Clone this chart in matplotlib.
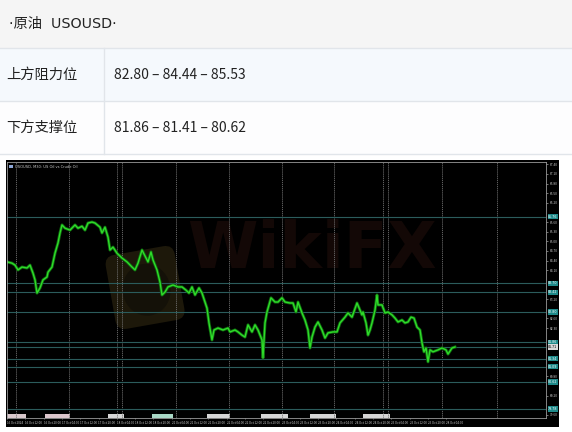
import numpy as np
import matplotlib.pyplot as plt
from matplotlib.patches import Rectangle, FancyBboxPatch, Ellipse
import matplotlib.transforms as mtransforms

plt.rcParams['font.family'] = ['Noto Sans CJK SC', 'DejaVu Sans']

# table text
header = '·原油  USOUSD·'
row_labels = ['上方阻力位', '下方支撑位']
row_values = ['82.80 – 84.44 – 85.53', '81.86 – 81.41 – 80.62']

# price trace (bar = column from the chart's left edge)
bars = [0, 5, 8, 11, 15, 20, 23, 26, 28, 30, 33, 36, 40, 41, 45, 48, 51, 53, 55, 58,
        63, 68, 71, 75, 78, 81, 85, 88, 93, 95, 98, 101, 103, 106, 110, 115, 120, 125,
        128, 131, 135, 139, 141, 144, 146, 150, 153, 155, 158, 161, 166, 171, 175, 179,
        182, 185, 188, 192, 195, 200, 202, 205, 207, 211, 216, 221, 223, 228, 231, 235,
        238, 241, 245, 248, 251, 255, 256, 258, 260, 264, 268, 271, 275, 278, 283, 286,
        289, 291, 295, 298, 301, 303, 305, 308, 311, 315, 318, 321, 326, 330, 333, 338,
        341, 345, 350, 353, 355, 356, 359, 361, 363, 365, 368, 370, 371, 375, 378, 381,
        385, 388, 391, 395, 398, 401, 404, 407, 410, 413, 415, 417, 419, 421, 423, 426,
        431, 435, 439, 441, 445, 448]
price = [84.36, 84.32, 84.26, 84.11, 84.20, 84.17, 84.26, 84.01, 83.80, 83.39, 83.55,
         83.80, 83.89, 84.04, 84.20, 84.63, 84.95, 85.26, 85.51, 85.41, 85.35, 85.51,
         85.41, 85.47, 85.35, 85.57, 85.60, 85.57, 85.44, 85.26, 85.44, 85.13, 84.73,
         84.82, 84.63, 84.48, 84.36, 84.20, 84.11, 84.32, 84.73, 84.48, 84.36, 84.67,
         84.42, 84.11, 83.73, 83.33, 83.42, 83.58, 83.64, 83.58, 83.58, 83.48, 83.39,
         83.58, 83.33, 83.55, 83.39, 82.92, 82.46, 81.93, 82.24, 82.30, 82.24, 82.30,
         82.18, 82.24, 82.18, 82.08, 82.02, 82.40, 82.18, 82.40, 82.24, 81.93, 81.37,
         82.46, 82.80, 83.24, 83.11, 83.11, 83.24, 83.11, 83.08, 83.08, 82.80, 83.11,
         82.77, 82.55, 82.24, 81.68, 82.02, 82.33, 82.49, 82.24, 81.99, 82.15, 82.18,
         82.18, 82.46, 82.64, 82.77, 82.64, 83.08, 82.86, 82.71, 82.80, 82.46, 82.08,
         82.24, 82.46, 82.86, 83.33, 83.02, 83.02, 82.77, 82.80, 82.71, 82.61, 82.49,
         82.55, 82.46, 82.49, 82.64, 82.61, 82.33, 82.24, 81.84, 81.56, 81.68, 81.25,
         81.62, 81.56, 81.62, 81.68, 81.62, 81.49, 81.68, 81.71]

levels = [85.76, 83.70, 83.42, 82.80, 81.86, 81.71, 81.34, 81.09, 80.62, 79.78]
session_bars = [9, 62, 110, 115, 169, 222, 275, 327, 376, 381, 435, 490]
time_labels = ['16 Oct 2024', '16 Oct 12:00', '16 Oct 20:00', '17 Oct 04:00',
               '17 Oct 12:00', '17 Oct 20:00', '18 Oct 04:00', '18 Oct 12:00',
               '18 Oct 20:00', '21 Oct 04:00', '21 Oct 12:00', '21 Oct 20:00',
               '22 Oct 04:00', '22 Oct 12:00', '22 Oct 20:00', '23 Oct 04:00',
               '23 Oct 12:00', '23 Oct 20:00', '24 Oct 04:00', '24 Oct 12:00',
               '24 Oct 20:00', '25 Oct 04:00', '25 Oct 12:00', '25 Oct 20:00',
               '28 Oct 04:00']

fig = plt.figure(figsize=(5.72, 4.32), dpi=100)

# background layer in pixel units (y down)
bg = fig.add_axes([0, 0, 1, 1])
bg.set_xlim(0, 572)
bg.set_ylim(432, 0)
bg.axis('off')

bg.add_patch(Rectangle((0, 0), 572, 48, fc='#f5f5f5', ec='none'))
bg.add_patch(Rectangle((0, 48), 572, 53, fc='#f5f9fd', ec='none'))
bg.add_patch(Rectangle((0, 101), 572, 53, fc='#fdfdfe', ec='none'))
for yy in [48, 101, 154]:
    bg.plot([0, 572], [yy, yy], color='#e1e5ea', lw=1)
bg.plot([104, 104], [48, 154], color='#e1e5ea', lw=1)

bg.text(9, 24, header, fontsize=10.3, color='#222222', va='center',
        family=['DejaVu Sans', 'Noto Sans CJK SC'])
for i, (lab, val) in enumerate(zip(row_labels, row_values)):
    yc = 75 + i * 53
    bg.text(6, yc, lab, fontsize=10.3, color='#222222', va='center')
    bg.text(114, yc, val, fontsize=10, color='#222222', va='center')

# black terminal window
bg.add_patch(Rectangle((6, 160), 553, 267, fc='black', ec='none'))

# watermark (very faint)
rot = mtransforms.Affine2D().rotate_deg_around(145, 287, -10) + bg.transData
bg.add_patch(FancyBboxPatch((110, 250), 70, 75, boxstyle='round,pad=0,rounding_size=10',
                            fc='#1d180a', ec='none', transform=rot))
bg.add_patch(Ellipse((146, 290), 48, 52, fc='#141108', ec='none', transform=rot))
bg.text(312, 250, 'WikiFX', fontsize=46, fontweight='bold', color='#130806',
        ha='center', va='center', family='DejaVu Sans')

# small chart title + icon
bg.add_patch(Rectangle((9, 165), 4, 3, fc='#8fa8d8', ec='none'))
bg.text(15, 166.5, 'USOUSD, M30: US Oil vs Crude Oil', fontsize=2.6, color='#cccccc',
        va='center', family='DejaVu Sans')

# labels of vertical separators along the bottom
marker_spans = [(7, 26, '#d9c8cc'), (45, 70, '#dcc6cc'), (108, 124, '#d6d6d6'),
                (152, 173, '#a9d8c6'), (207, 230, '#d6d6d6'), (261, 288, '#d6d6d6'),
                (310, 336, '#d6d6d6'), (363, 390, '#d6d6d6')]
for x0, x1, c in marker_spans:
    bg.add_patch(Rectangle((x0, 414), x1 - x0, 3.5, fc=c, ec='none'))

# chart
ax = fig.add_axes([7 / 572, 1 - 418 / 432, 539 / 572, 256 / 432])
ax.set_facecolor('none')
ax.set_xlim(0, 539)
ax.set_ylim(79.50, 87.47)

for b in session_bars:
    ax.axvline(b, color='#707070', lw=0.6, ls=(0, (1.5, 1)))
for lv in levels:
    ax.axhline(lv, color='#2b5c5c', lw=0.8)

ax.plot(bars, price, color='#0f6a0f', lw=2.2)
ax.plot(bars, price, color='#2fdc2a', lw=1.0)

for s in ax.spines.values():
    s.set_color('#9a9a9a')
    s.set_linewidth(0.6)

ax.yaxis.tick_right()
yt = [v for v in np.arange(79.6, 87.4, 0.3) if min(abs(v - lv) for lv in levels) > 0.16]
ax.set_yticks(yt)
ax.set_yticklabels([f'{v:.2f}' for v in yt])
ax.tick_params(axis='y', colors='#c8c8c8', labelsize=2.3, length=1.5, width=0.4, pad=1)

ax.set_xticks(np.arange(len(time_labels)) * 18.3)
ax.set_xticklabels(time_labels)
ax.tick_params(axis='x', colors='#c8c8c8', labelsize=2.2, length=1, width=0.4, pad=0.8)
for lab in ax.get_xticklabels():
    lab.set_horizontalalignment('left')

trans = mtransforms.blended_transform_factory(ax.transAxes, ax.transData)
for lv in levels:
    fc = '#d8d8d8' if lv == price[-1] else '#1f8a8a'
    tc = 'black' if lv == price[-1] else 'white'
    ax.text(1.004, lv, f'{lv:.2f}', transform=trans, fontsize=2.3, color=tc,
            va='center', ha='left', family='DejaVu Sans', clip_on=False,
            bbox=dict(fc=fc, ec='none', pad=0.4))

fig.savefig('out.png', dpi=100)
